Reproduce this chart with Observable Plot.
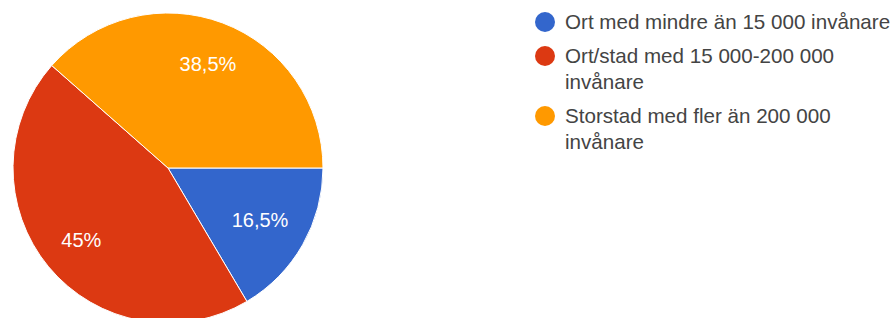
<!DOCTYPE html>
<html>
<head>
<meta charset="utf-8">
<script src="https://cdn.jsdelivr.net/npm/d3@7"></script>
<script src="https://cdn.jsdelivr.net/npm/@observablehq/plot@0.6"></script>
<style>
  html, body { margin: 0; padding: 0; background: #fff; overflow: hidden; }
  #wrap { position: relative; width: 894px; height: 318px; font-family: Arial, "Liberation Sans", sans-serif; }
  #legend { position: absolute; left: 535px; top: 9px; width: 359px; }
  .item { display: flex; align-items: flex-start; margin-bottom: 8px; color: #444; font-size: 20.6px; line-height: 26px; }
  .sw { flex: 0 0 20px; width: 20px; height: 20px; border-radius: 50%; margin: 3px 10px 0 0; }
</style>
</head>
<body>
<div id="wrap"><div id="chart"></div><div id="legend"></div></div>
<script>
const categories = [
  "Ort med mindre än 15 000 invånare",
  "Ort/stad med 15 000-200 000 invånare",
  "Storstad med fler än 200 000 invånare"
];
const shares = [16.5, 45, 38.5];
const labels = ["16,5%", "45%", "38,5%"];
const colors = ["#3366cc", "#dc3912", "#ff9900"];

const start = Math.PI / 2;
const pie = d3.pie().sort(null).startAngle(start).endAngle(start + 2 * Math.PI);
const arcs = pie(shares);

const labelRadius = [0.68, 0.73, 0.72];
const labelData = arcs.map((a, i) => {
  const m = (a.startAngle + a.endAngle) / 2;
  return { cat: categories[i], text: labels[i], x: labelRadius[i] * Math.sin(m), y: labelRadius[i] * Math.cos(m) };
});

function pieMark(index, scales) {
  const cx = scales.x(0), cy = scales.y(0), r = scales.x(1) - cx;
  const arcGen = d3.arc().innerRadius(0).outerRadius(r);
  const g = d3.create("svg:g").attr("transform", `translate(${cx},${cy})`);
  g.selectAll("path").data(arcs).join("path")
    .attr("d", arcGen)
    .attr("fill", (d, i) => scales.color(categories[i]))
    .attr("stroke", "#fff")
    .attr("stroke-width", 1);
  return g.node();
}

const chart = Plot.plot({
  width: 894,
  height: 318,
  margin: 0,
  style: { fontFamily: 'Arial, "Liberation Sans", sans-serif', overflow: "visible" },
  x: { domain: [-1, 1], range: [13, 323], axis: null },
  y: { domain: [-1, 1], range: [323, 13], axis: null },
  color: { domain: categories, range: colors },
  marks: [
    pieMark,
    Plot.text(labelData, { x: "x", y: "y", text: "text", fill: "white", fontSize: 20 })
  ]
});
document.getElementById("chart").appendChild(chart);

const legend = d3.select("#legend");
categories.forEach((c, i) => {
  const it = legend.append("div").attr("class", "item");
  it.append("div").attr("class", "sw").style("background", colors[i]);
  it.append("div").text(c);
});
</script>
</body>
</html>
